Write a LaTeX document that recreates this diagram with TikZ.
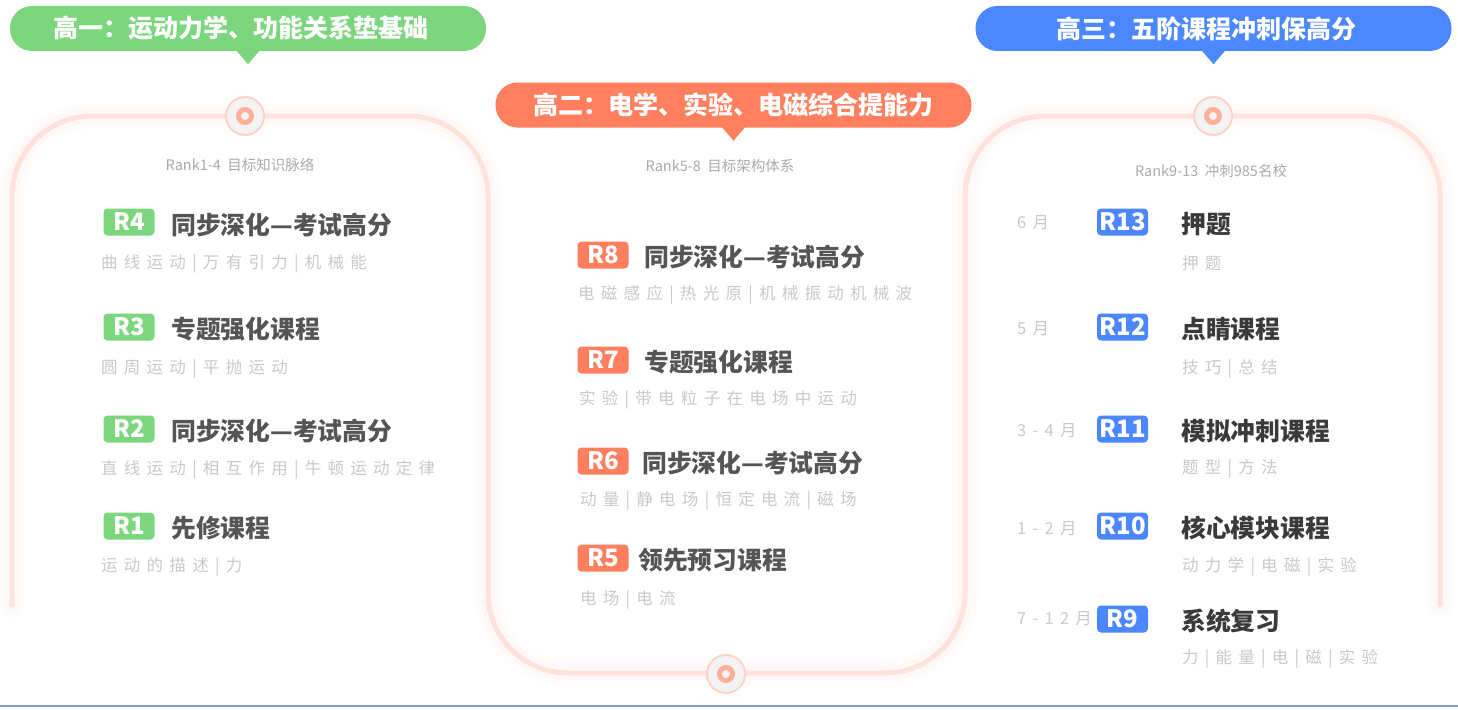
\documentclass[tikz,border=0pt]{standalone}
\usepackage{fontspec}
\setmainfont{Noto Sans CJK SC}
\newfontfamily\spaced[LetterSpace=38]{Noto Sans CJK SC}
\usepackage{xcolor}
\usetikzlibrary{positioning}

\definecolor{hgreen}{HTML}{7BD67E}
\definecolor{horange}{HTML}{FF7F5F}
\definecolor{hblue}{HTML}{4B87FF}
\definecolor{trackline}{HTML}{FFE2DB}
\definecolor{trackglow}{HTML}{FFF8F6}
\definecolor{trackhalo}{HTML}{FFFCFB}
\definecolor{ringout}{HTML}{FFD3C8}
\definecolor{ringin}{HTML}{FFAF9B}
\definecolor{ringfill}{HTML}{F3F3F3}
\definecolor{ranktxt}{HTML}{ABABAB}
\definecolor{subtxt}{HTML}{C9C9C9}
\definecolor{titletxt}{HTML}{555555}
\definecolor{darktxt}{HTML}{3A3A3A}
\definecolor{footline}{HTML}{7C9CCB}

\begin{document}
\begin{tikzpicture}[
  x=1pt, y=-1pt,
  hdr/.style={rounded corners=22pt, minimum width=476pt, minimum height=45pt, inner sep=0pt},
  hdrtxt/.style={inner sep=0pt, text=white, font=\bfseries\fontsize{25}{25}\selectfont},
  rank/.style={inner sep=0pt, text=ranktxt, font=\fontsize{14.5}{14.5}\selectfont},
  badge/.style={rounded corners=4pt, minimum width=51pt, minimum height=27pt, inner sep=0pt, text=white, font=\bfseries\fontsize{24}{24}\selectfont},
  title/.style={anchor=west, inner sep=0pt, text=titletxt, font=\bfseries\fontsize{24.8}{24.8}\selectfont},
  topic/.style={anchor=west, inner sep=0pt, yshift=-2pt, text=subtxt, font=\spaced\fontsize{16.5}{16.5}\selectfont},
  month/.style={anchor=west, inner sep=0pt, yshift=-1pt, text=subtxt, font=\spaced\fontsize{16.5}{16.5}\selectfont},
  ring/.style={circle, minimum size=38pt, inner sep=0pt, fill=ringfill, draw=ringout, line width=2pt},
  dot/.style={circle, minimum size=13pt, inner sep=0pt, fill=ringfill, draw=ringin, line width=5pt},
  track/.style={rounded corners=80pt, line cap=round}
]
\useasboundingbox (0,0) rectangle (1458,709);
\fill[white] (0,0) rectangle (1458,709);

% serpentine track through the three years
\draw[track, trackhalo, line width=26pt] (12,605) -- (12,116) -- (488,116) -- (488,673) -- (965,673) -- (965,116) -- (1440,116) -- (1440,605);
\draw[track, trackglow, line width=14pt] (12,605) -- (12,116) -- (488,116) -- (488,673) -- (965,673) -- (965,116) -- (1440,116) -- (1440,605);
\draw[track, trackline, line width=5pt] (12,605) -- (12,116) -- (488,116) -- (488,673) -- (965,673) -- (965,116) -- (1440,116) -- (1440,605);

\node[ring] (ring1) at (245,116) {};
\node[dot]  (dot1)  at (245,116) {};
\node[ring] (ring2) at (726,674) {};
\node[dot]  (dot2)  at (726,674) {};
\node[ring] (ring3) at (1213,116) {};
\node[dot]  (dot3)  at (1213,116) {};

% headers
\node[hdr, fill=hgreen]  (h1) at (248,28.5) {};
\fill[hgreen] (h1.south) ++(-12,-1) -- ++(12,14) -- ++(12,-14) -- cycle;
\node[hdrtxt] (h1t) at ([xshift=-7pt]h1.center) {高一：运动力学、功能关系垫基础};
\node[hdr, fill=horange] (h2) at (733.5,105) {};
\fill[horange] (h2.south) ++(-12,-1) -- ++(12,14) -- ++(12,-14) -- cycle;
\node[hdrtxt] (h2t) at (h2.center) {高二：电学、实验、电磁综合提能力};
\node[hdr, fill=hblue]   (h3) at (1213.5,28.5) {};
\fill[hblue] (h3.south) ++(-12,-1) -- ++(12,14) -- ++(12,-14) -- cycle;
\node[hdrtxt] (h3t) at ([xshift=-7pt]h3.center) {高三：五阶课程冲刺保高分};

\node[rank] (rk1) at (240,165) {Rank1-4\ \ 目标知识脉络};
\node[rank] (rk2) at (720,166) {Rank5-8\ \ 目标架构体系};
\node[rank] (rk3) at (1211,171) {Rank9-13\ \ 冲刺985名校};

% grade one
\node[badge, fill=hgreen] (r4) at (129,222) {R4};
\node[title] (t4) at (171,225) {同步深化—考试高分};
\node[topic] (s4) at (101,262) {曲线运动|万有引力|机械能};
\node[badge, fill=hgreen] (r3) at (129,327) {R3};
\node[title] (t3) at (171,329) {专题强化课程};
\node[topic] (s3) at (101,367) {圆周运动|平抛运动};
\node[badge, fill=hgreen] (r2) at (129,429) {R2};
\node[title] (t2) at (171,431) {同步深化—考试高分};
\node[topic] (s2) at (101,468) {直线运动|相互作用|牛顿运动定律};
\node[badge, fill=hgreen] (r1) at (129,526) {R1};
\node[title] (t1) at (171,528) {先修课程};
\node[topic] (s1) at (101,565) {运动的描述|力};

% grade two
\node[badge, fill=horange] (r8) at (603,255) {R8};
\node[title] (t8) at (644,257) {同步深化—考试高分};
\node[topic] (s8) at (578,293) {电磁感应|热光原|机械振动机械波};
\node[badge, fill=horange] (r7) at (603,360) {R7};
\node[title] (t7) at (644,362) {专题强化课程};
\node[topic] (s7) at (579,398) {实验|带电粒子在电场中运动};
\node[badge, fill=horange] (r6) at (603,461) {R6};
\node[title] (t6) at (642,463) {同步深化—考试高分};
\node[topic] (s6) at (580,499) {动量|静电场|恒定电流|磁场};
\node[badge, fill=horange] (r5) at (603,558) {R5};
\node[title] (t5) at (638,560) {领先预习课程};
\node[topic] (s5) at (580,598) {电场|电流};

% grade three
\node[month] (m13) at (1017,222) {6月};
\node[badge, fill=hblue] (r13) at (1122.5,222) {R13};
\node[title, text=darktxt] (t13) at (1181,224) {押题};
\node[topic] (s13) at (1182,261) {押题};
\node[month] (m12) at (1017,328) {5月};
\node[badge, fill=hblue] (r12) at (1122.5,327) {R12};
\node[title, text=darktxt] (t12) at (1181,329) {点睛课程};
\node[topic] (s12) at (1182,367) {技巧|总结};
\node[month] (m11) at (1017,430) {3-4月};
\node[badge, fill=hblue] (r11) at (1122.5,429) {R11};
\node[title, text=darktxt] (t11) at (1181,431) {模拟冲刺课程};
\node[topic] (s11) at (1182,467) {题型|方法};
\node[month] (m10) at (1017,528) {1-2月};
\node[badge, fill=hblue] (r10) at (1122.5,526) {R10};
\node[title, text=darktxt] (t10) at (1181,528) {核心模块课程};
\node[topic] (s10) at (1182,565) {动力学|电磁|实验};
\node[month] (m9) at (1017,618) {7-12月};
\node[badge, fill=hblue] (r9) at (1122.5,619) {R9};
\node[title, text=darktxt] (t9) at (1181,621) {系统复习};
\node[topic] (s9) at (1182,657) {力|能量|电|磁|实验};

\draw[footline, line width=2pt] (0,706) -- (1458,706);
\end{tikzpicture}
\end{document}
